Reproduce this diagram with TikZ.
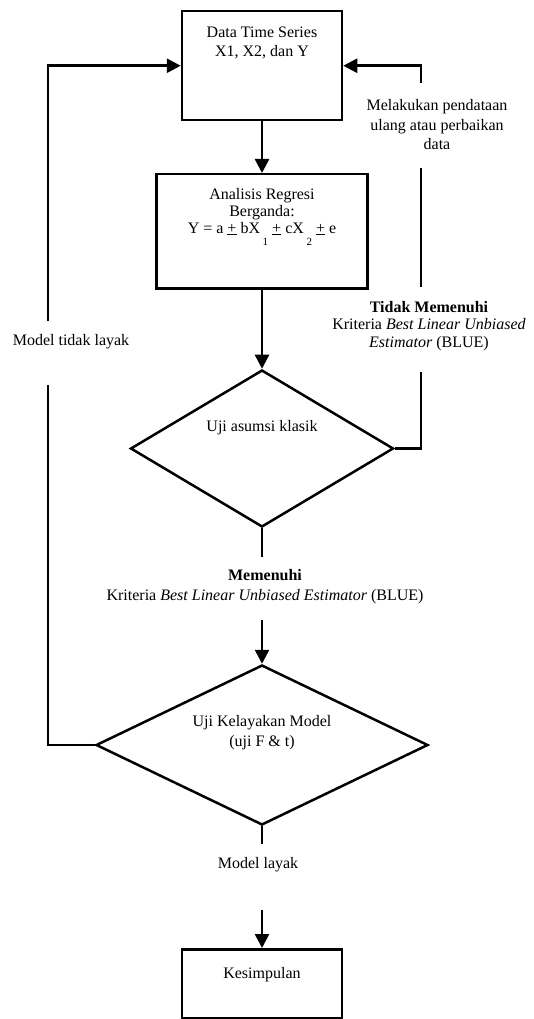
\documentclass[tikz,border=0pt]{standalone}
\usepackage{fontspec}
\setmainfont{Liberation Serif}
\usetikzlibrary{arrows.meta, shapes.geometric}
\newcommand{\lowsub}[1]{\,\raisebox{-12pt}{\fontsize{11}{11}\selectfont #1}}
\tikzset{
  flow/.style = {line width=2.5pt},
  arr/.style = {flow, -{Triangle[length=14pt, width=14pt]}},
  box/.style = {draw, flow, anchor=north, align=center, inner xsep=2pt, inner ysep=4pt},
  dec/.style = {draw, flow, diamond, aspect=2, inner sep=0pt, align=center},
  lbl/.style = {align=center}
}

\begin{document}
\begin{tikzpicture}[x=1pt, y=-1pt, font=\fontsize{16}{18.5}\selectfont]
\useasboundingbox (0,0) rectangle (533,1019);
\node [box, minimum width=160pt, text height=41pt, text depth=60pt] (data) at (262,10) {Data Time Series\\X1, X2, dan Y};
\node [box, minimum width=211pt, text height=55pt, text depth=51pt, font=\fontsize{16}{17}\selectfont] (regresi) at (262,173) {Analisis Regresi\\Berganda:\\Y = a \underline{+} bX\lowsub{1} \underline{+} cX\lowsub{2} \underline{+} e};
\node [dec, minimum width=263pt, minimum height=157pt, text height=12pt, text depth=47pt] (asumsi) at (262,448.5) {Uji asumsi klasik};
\node [dec, minimum width=332pt, minimum height=160pt, text height=31pt, text depth=29pt, font=\fontsize{16}{20}\selectfont] (kelayakan) at (262,745) {Uji Kelayakan Model\\(uji F \& t)};
\node [box, minimum width=160pt, text height=25pt, text depth=36pt] (simpul) at (262,948) {Kesimpulan};

\node [lbl, font=\fontsize{16}{19.5}\selectfont] (lblulang) at (437,125) {Melakukan pendataan\\ulang atau perbaikan\\data};
\node [lbl, font=\fontsize{16}{17.5}\selectfont] (lbltidak) at (429,326) {\textbf{Tidak Memenuhi}\\Kriteria \textit{Best Linear Unbiased}\\\textit{Estimator} (BLUE)};
\node [lbl] (lblmodel) at (71,342) {Model tidak layak};
\node [lbl, font=\fontsize{16}{20}\selectfont] (lblmemenuhi) at (265,587) {\textbf{Memenuhi}\\Kriteria \textit{Best Linear Unbiased Estimator} (BLUE)};
\node [lbl] (lbllayak) at (258,865) {Model layak};

\coordinate (rgapa) at (421,372);
\coordinate (rgapb) at (421,287);
\coordinate (rgapc) at (421,168);
\coordinate (rgapd) at (421,83);
\coordinate (lgapa) at (48,385);
\coordinate (lgapb) at (48,321);
\coordinate (mgapa) at (262,557);
\coordinate (mgapb) at (262,620);
\coordinate (mgapc) at (262,844);
\coordinate (mgapd) at (262,910);

\draw [arr] (data) -- (regresi);
\draw [arr] (regresi) -- (asumsi);
\draw [flow] (asumsi) -- (mgapa);
\draw [arr] (mgapb) -- (kelayakan);
\draw [flow] (kelayakan) -- (mgapc);
\draw [arr] (mgapd) -- (simpul);
\draw [flow] (asumsi.east) -| (rgapa);
\draw [flow] (rgapb) -- (rgapc);
\draw [arr] (rgapd) |- (data.east);
\draw [flow] (kelayakan.west) -| (lgapa);
\draw [arr] (lgapb) |- (data.west);
\end{tikzpicture}
\end{document}
